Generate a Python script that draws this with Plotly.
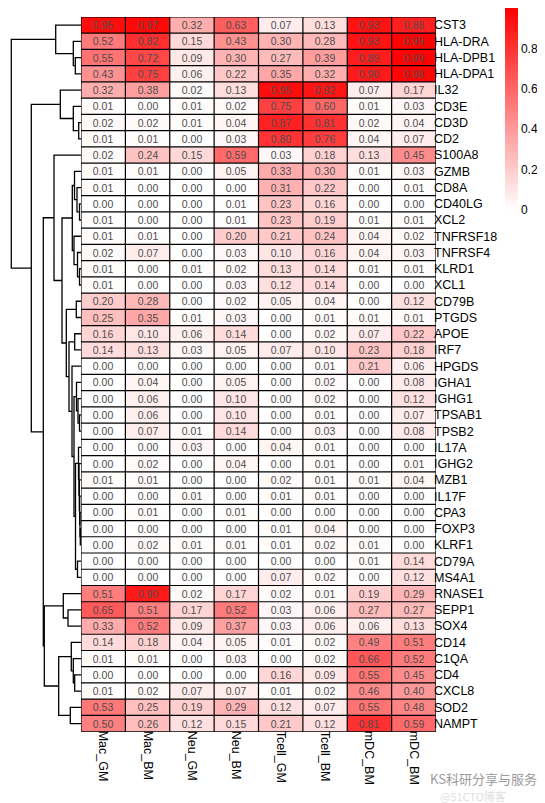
import plotly.graph_objects as go

# ---------------- data ----------------
genes = ["CST3", "HLA-DRA", "HLA-DPB1", "HLA-DPA1", "IL32", "CD3E", "CD3D", "CD2",
         "S100A8", "GZMB", "CD8A", "CD40LG", "XCL2", "TNFRSF18", "TNFRSF4", "KLRD1",
         "XCL1", "CD79B", "PTGDS", "APOE", "IRF7", "HPGDS", "IGHA1", "IGHG1", "TPSAB1",
         "TPSB2", "IL17A", "IGHG2", "MZB1", "IL17F", "CPA3", "FOXP3", "KLRF1", "CD79A",
         "MS4A1", "RNASE1", "SEPP1", "SOX4", "CD14", "C1QA", "CD4", "CXCL8", "SOD2", "NAMPT"]

samples = ["Mac_GM", "Mac_BM", "Neu_GM", "Neu_BM", "Tcell_GM", "Tcell_BM", "mDC_BM", "mDC_BM"]

values = [
    [0.95, 0.97, 0.32, 0.63, 0.07, 0.13, 0.93, 0.88],
    [0.52, 0.82, 0.15, 0.43, 0.30, 0.28, 0.93, 0.99],
    [0.55, 0.72, 0.09, 0.30, 0.27, 0.39, 0.89, 0.99],
    [0.43, 0.75, 0.06, 0.22, 0.35, 0.32, 0.90, 0.98],
    [0.32, 0.38, 0.02, 0.13, 0.95, 0.92, 0.07, 0.17],
    [0.01, 0.00, 0.01, 0.02, 0.75, 0.60, 0.01, 0.03],
    [0.02, 0.02, 0.01, 0.04, 0.87, 0.81, 0.02, 0.04],
    [0.01, 0.01, 0.00, 0.03, 0.80, 0.76, 0.04, 0.07],
    [0.02, 0.24, 0.15, 0.59, 0.03, 0.18, 0.13, 0.45],
    [0.01, 0.01, 0.00, 0.05, 0.33, 0.30, 0.01, 0.03],
    [0.01, 0.00, 0.00, 0.00, 0.31, 0.22, 0.00, 0.01],
    [0.00, 0.00, 0.00, 0.01, 0.23, 0.16, 0.00, 0.00],
    [0.01, 0.00, 0.00, 0.01, 0.23, 0.19, 0.01, 0.01],
    [0.01, 0.01, 0.00, 0.20, 0.21, 0.24, 0.04, 0.02],
    [0.02, 0.07, 0.00, 0.03, 0.10, 0.16, 0.04, 0.03],
    [0.01, 0.00, 0.01, 0.02, 0.13, 0.14, 0.01, 0.01],
    [0.01, 0.00, 0.00, 0.03, 0.12, 0.14, 0.00, 0.00],
    [0.20, 0.28, 0.00, 0.02, 0.05, 0.04, 0.00, 0.12],
    [0.25, 0.35, 0.01, 0.03, 0.00, 0.01, 0.01, 0.01],
    [0.16, 0.10, 0.06, 0.14, 0.00, 0.02, 0.07, 0.22],
    [0.14, 0.13, 0.03, 0.05, 0.07, 0.10, 0.23, 0.18],
    [0.00, 0.00, 0.00, 0.00, 0.00, 0.01, 0.21, 0.06],
    [0.00, 0.04, 0.00, 0.05, 0.00, 0.02, 0.00, 0.08],
    [0.00, 0.06, 0.00, 0.10, 0.00, 0.02, 0.00, 0.12],
    [0.00, 0.06, 0.00, 0.10, 0.00, 0.01, 0.00, 0.07],
    [0.00, 0.07, 0.01, 0.14, 0.00, 0.03, 0.00, 0.08],
    [0.00, 0.00, 0.03, 0.00, 0.04, 0.01, 0.00, 0.00],
    [0.00, 0.02, 0.00, 0.04, 0.00, 0.01, 0.00, 0.01],
    [0.01, 0.01, 0.00, 0.00, 0.02, 0.01, 0.01, 0.04],
    [0.00, 0.00, 0.01, 0.00, 0.01, 0.01, 0.00, 0.00],
    [0.00, 0.01, 0.00, 0.01, 0.00, 0.00, 0.00, 0.00],
    [0.00, 0.00, 0.00, 0.00, 0.01, 0.04, 0.00, 0.00],
    [0.00, 0.02, 0.01, 0.01, 0.01, 0.02, 0.01, 0.00],
    [0.00, 0.00, 0.00, 0.00, 0.00, 0.00, 0.01, 0.14],
    [0.00, 0.00, 0.00, 0.00, 0.07, 0.02, 0.00, 0.12],
    [0.51, 0.90, 0.02, 0.17, 0.02, 0.01, 0.19, 0.29],
    [0.65, 0.51, 0.17, 0.52, 0.03, 0.06, 0.27, 0.27],
    [0.33, 0.52, 0.09, 0.37, 0.03, 0.06, 0.06, 0.13],
    [0.14, 0.18, 0.04, 0.05, 0.01, 0.02, 0.49, 0.51],
    [0.01, 0.01, 0.00, 0.03, 0.00, 0.02, 0.66, 0.52],
    [0.00, 0.00, 0.00, 0.00, 0.16, 0.09, 0.55, 0.45],
    [0.01, 0.02, 0.07, 0.07, 0.01, 0.02, 0.46, 0.40],
    [0.53, 0.25, 0.19, 0.29, 0.12, 0.07, 0.55, 0.48],
    [0.50, 0.26, 0.12, 0.15, 0.21, 0.12, 0.81, 0.59],
]

# row-dendrogram merges: (child A, child B, new cluster, merge height)
den_merges = [
    ("HLA-DPB1", "HLA-DPA1", "m1", 5.7),
    ("HLA-DRA", "m1", "m2", 7.7),
    ("CST3", "m2", "m3", 25.3),
    ("CD3D", "CD2", "m4", 2.3),
    ("CD3E", "m4", "m5", 7.7),
    ("IL32", "m5", "m6", 20.7),
    ("CD40LG", "XCL2", "m7", 1.5),
    ("CD8A", "m7", "m8", 4.0),
    ("GZMB", "m8", "m9", 6.5),
    ("KLRD1", "XCL1", "m10", 1.5),
    ("TNFRSF4", "m10", "m11", 3.5),
    ("TNFRSF18", "m11", "m12", 7.0),
    ("m9", "m12", "m13", 8.7),
    ("CD79B", "PTGDS", "m14", 4.7),
    ("APOE", "IRF7", "m15", 6.3),
    ("TPSAB1", "TPSB2", "m16", 1.5),
    ("IGHG1", "m16", "m17", 3.0),
    ("IGHA1", "m17", "m18", 4.5),
    ("FOXP3", "KLRF1", "m19", 0.7),
    ("CPA3", "m19", "m20", 1.0),
    ("IL17F", "m20", "m21", 1.3),
    ("MZB1", "m21", "m22", 1.7),
    ("IGHG2", "m22", "m23", 2.0),
    ("IL17A", "m23", "m24", 2.5),
    ("CD79A", "MS4A1", "m25", 3.5),
    ("m24", "m25", "m26", 5.5),
    ("m18", "m26", "m27", 7.0),
    ("HPGDS", "m27", "m28", 9.0),
    ("m15", "m28", "m29", 12.0),
    ("m14", "m29", "m30", 14.7),
    ("m13", "m30", "m31", 19.0),
    ("S100A8", "m31", "m32", 27.0),
    ("SEPP1", "SOX4", "m33", 13.0),
    ("RNASE1", "m33", "m34", 17.7),
    ("CD4", "CXCL8", "m35", 6.3),
    ("C1QA", "m35", "m36", 7.7),
    ("CD14", "m36", "m37", 9.7),
    ("SOD2", "NAMPT", "m38", 10.7),
    ("m37", "m38", "m39", 22.3),
    ("m34", "m39", "m40", 36.7),
    ("m32", "m40", "m41", 37.7),
    ("m6", "m41", "m42", 49.7),
    ("m3", "m42", "m43", 69.7),
]

colorbar_ticks = [0, 0.2, 0.4, 0.6, 0.8]
colorbar_ticktext = ["0", "0.2", "0.4", "0.6", "0.8"]

# ---------------- layout geometry (pixels) ----------------
W, H = 545, 803
HM_L, HM_R, HM_T, HM_B = 73, 428, 7, 723.5
FONT = "Liberation Sans, Arial, sans-serif"

fig = go.Figure()

fig.add_trace(go.Heatmap(
    z=values,
    x=list(range(len(samples))),
    y=list(range(len(genes))),
    colorscale=[[0, "#FFFFFF"], [1, "#FF0000"]],
    zmin=0, zmax=1,
    texttemplate="%{z:.2f}",
    textfont=dict(size=10.5, color="#4d4d4d", family=FONT),
    hoverinfo="skip",
    colorbar=dict(
        x=497 / W, xanchor="left", xpad=0,
        y=1 + 2 / H, yanchor="top", ypad=0,
        lenmode="pixels", len=202,
        thickness=13, outlinewidth=0,
        tickvals=colorbar_ticks, ticktext=colorbar_ticktext,
        ticks="", tickfont=dict(size=12, color="black", family=FONT),
    ),
))

# dendrogram
pos = {g: i for i, g in enumerate(genes)}
hgt = {g: 0.0 for g in genes}
dx, dy = [], []
for a, b, name, h in den_merges:
    ya, yb = pos[a], pos[b]
    dx += [hgt[a], h, h, hgt[b], None]
    dy += [ya, ya, yb, yb, None]
    pos[name] = (ya + yb) / 2
    hgt[name] = h

fig.add_trace(go.Scatter(
    x=dx, y=dy, xaxis="x2", yaxis="y", mode="lines",
    line=dict(color="black", width=1.3), showlegend=False, hoverinfo="skip",
))

# cell borders
shapes = []
nC, nR = len(samples), len(genes)
for k in range(nC + 1):
    shapes.append(dict(type="line", xref="x", yref="y", x0=k - 0.5, x1=k - 0.5,
                       y0=-0.5, y1=nR - 0.5, line=dict(color="black", width=1.2), layer="above"))
for j in range(nR + 1):
    shapes.append(dict(type="line", xref="x", yref="y", x0=-0.5, x1=nC - 0.5,
                       y0=j - 0.5, y1=j - 0.5, line=dict(color="black", width=1.2), layer="above"))

fig.update_layout(
    width=W, height=H, autosize=False,
    margin=dict(l=0, r=0, t=0, b=0),
    paper_bgcolor="white", plot_bgcolor="white",
    font=dict(family=FONT, color="black"),
    shapes=shapes,
    xaxis=dict(
        domain=[HM_L / W, HM_R / W], range=[-0.5, nC - 0.5],
        tickvals=list(range(nC)), ticktext=samples, tickangle=90,
        tickfont=dict(size=12.5, color="black", family=FONT),
        ticks="", ticklabelstandoff=-2,
        showgrid=False, zeroline=False, showline=False, automargin=False,
    ),
    yaxis=dict(
        domain=[1 - HM_B / H, 1 - HM_T / H], range=[nR - 0.5, -0.5],
        tickvals=list(range(nR)), ticktext=genes, side="right",
        tickfont=dict(size=12.5, color="black", family=FONT),
        ticks="", ticklabelstandoff=-3,
        showgrid=False, zeroline=False, showline=False, automargin=False,
    ),
    xaxis2=dict(
        domain=[0, HM_L / W], range=[HM_L, 0], anchor="y",
        visible=False, showgrid=False, zeroline=False,
    ),
    annotations=[
        dict(text="KS科研分享与服务", x=420 / W, y=1 - 770 / H, xref="paper", yref="paper",
             xanchor="left", yanchor="middle", showarrow=False,
             font=dict(size=13, color="#9a9a9a", family="Noto Sans CJK SC")),
        dict(text="@51CTO博客", x=430 / W, y=1 - 788 / H, xref="paper", yref="paper",
             xanchor="left", yanchor="middle", showarrow=False,
             font=dict(size=11, color="#e0e0e0", family="Noto Sans CJK SC")),
    ],
)

fig.write_html("out.html")
